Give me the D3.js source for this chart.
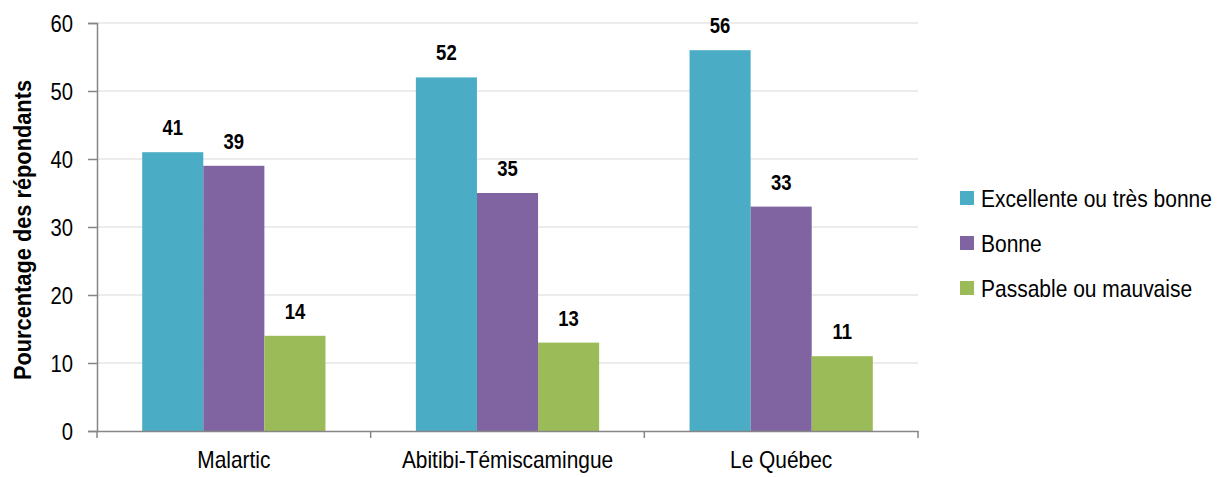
<!DOCTYPE html>
<html>
<head>
<meta charset="utf-8">
<script src="https://cdn.jsdelivr.net/npm/d3@7"></script>
<style>
  body { margin: 0; background: #fff; }
  text { font-family: "Liberation Sans", Arial, sans-serif; }
</style>
</head>
<body>
<svg id="chart" width="1223" height="477"></svg>
<script>
// data
var categories = ["Malartic", "Abitibi-Témiscamingue", "Le Québec"];
var seriesNames = ["Excellente ou très bonne", "Bonne", "Passable ou mauvaise"];
var excellente = [41, 52, 56];
var bonne = [39, 35, 33];
var passable = [14, 13, 11];
var yTicks = [0, 10, 20, 30, 40, 50, 60];
var colours = ["#4bacc6", "#8064a2", "#9bbb59"];

var series = [excellente, bonne, passable];

var svg = d3.select("#chart");
var margin = {left: 97, right: 305, top: 23, bottom: 46};
var width = 1223 - margin.left - margin.right,
    height = 477 - margin.top - margin.bottom;

var x0 = d3.scaleBand().domain(categories).range([0, width]).paddingInner(0).paddingOuter(0);
var x1 = d3.scaleBand().domain(seriesNames).range([0, x0.bandwidth()]).paddingInner(0).paddingOuter(0.74);
var y = d3.scaleLinear().domain([0, 60]).range([height, 0]);

// the reference uses a narrow face; squeeze the text horizontally
function narrow(sel, k) {
  sel.each(function() {
    var len = this.getComputedTextLength();
    d3.select(this).attr("textLength", len * k).attr("lengthAdjust", "spacingAndGlyphs");
  });
}

var g = svg.append("g").attr("transform", "translate(" + margin.left + "," + margin.top + ")");

// gridlines
g.selectAll(".grid").data(yTicks.slice(1)).enter()
  .append("line")
  .attr("x1", 0).attr("x2", width)
  .attr("y1", d => y(d)).attr("y2", d => y(d))
  .attr("stroke", "#d9d9d9").attr("stroke-width", 1);

// bars
var groups = g.selectAll(".grp").data(categories).enter()
  .append("g")
  .attr("transform", d => "translate(" + x0(d) + ",0)");

function cells(c, ci) {
  return seriesNames.map((s, si) => ({s: s, si: si, v: series[si][ci]}));
}

groups.selectAll("rect")
  .data(cells)
  .enter().append("rect")
  .attr("x", d => x1(d.s))
  .attr("width", x1.bandwidth())
  .attr("y", d => y(d.v))
  .attr("height", d => height - y(d.v))
  .attr("fill", d => colours[d.si]);

groups.selectAll(".lbl")
  .data(cells)
  .enter().append("text")
  .attr("x", d => x1(d.s) + x1.bandwidth() / 2)
  .attr("y", d => y(d.v) - 17)
  .attr("text-anchor", "middle")
  .attr("font-size", 22)
  .attr("font-weight", "bold")
  .attr("fill", "#000")
  .text(d => d.v)
  .call(narrow, 0.84);

// y axis
var yAxis = g.append("g")
  .call(d3.axisLeft(y).tickValues(yTicks).tickSize(9).tickPadding(15));
yAxis.selectAll("text").attr("font-size", 23).attr("fill", "#000").attr("font-family", null)
  .attr("dy", "0.36em").call(narrow, 0.88);
yAxis.selectAll("line").attr("stroke", "#868686").attr("stroke-width", 1.5);
yAxis.select(".domain").attr("stroke", "#868686").attr("stroke-width", 1.5);

// x axis
var xAxis = g.append("g")
  .attr("transform", "translate(0," + height + ")")
  .call(d3.axisBottom(x0).tickSize(0).tickPadding(20));
xAxis.selectAll("text").attr("font-size", 24).attr("fill", "#000").attr("font-family", null)
  .call(narrow, 0.87);
xAxis.select(".domain").attr("stroke", "#868686").attr("stroke-width", 1.5);
xAxis.selectAll(".sep").data([0, 1, 2, 3]).enter()
  .append("line")
  .attr("x1", i => i * x0.step()).attr("x2", i => i * x0.step())
  .attr("y1", 0).attr("y2", 7)
  .attr("stroke", "#868686").attr("stroke-width", 1.5);

// y title
svg.append("text")
  .attr("transform", "translate(22.5,230) rotate(-90)")
  .attr("text-anchor", "middle")
  .attr("dy", "0.36em")
  .attr("font-size", 23)
  .attr("font-weight", "bold")
  .text("Pourcentage des répondants")
  .attr("textLength", 300)
  .attr("lengthAdjust", "spacingAndGlyphs");

// legend
var legend = svg.append("g").attr("transform", "translate(960,0)");
var rows = legend.selectAll(".row").data(seriesNames).enter()
  .append("g")
  .attr("transform", (d, i) => "translate(0," + (198 + i * 45) + ")");
rows.append("rect")
  .attr("x", 0).attr("y", -7).attr("width", 14).attr("height", 14)
  .attr("fill", (d, i) => colours[i]);
rows.append("g")
  .attr("transform", "translate(21,0) scale(0.875,1)")
  .append("text")
  .attr("dy", "0.36em")
  .attr("font-size", 24)
  .text(d => d);
</script>
</body>
</html>
